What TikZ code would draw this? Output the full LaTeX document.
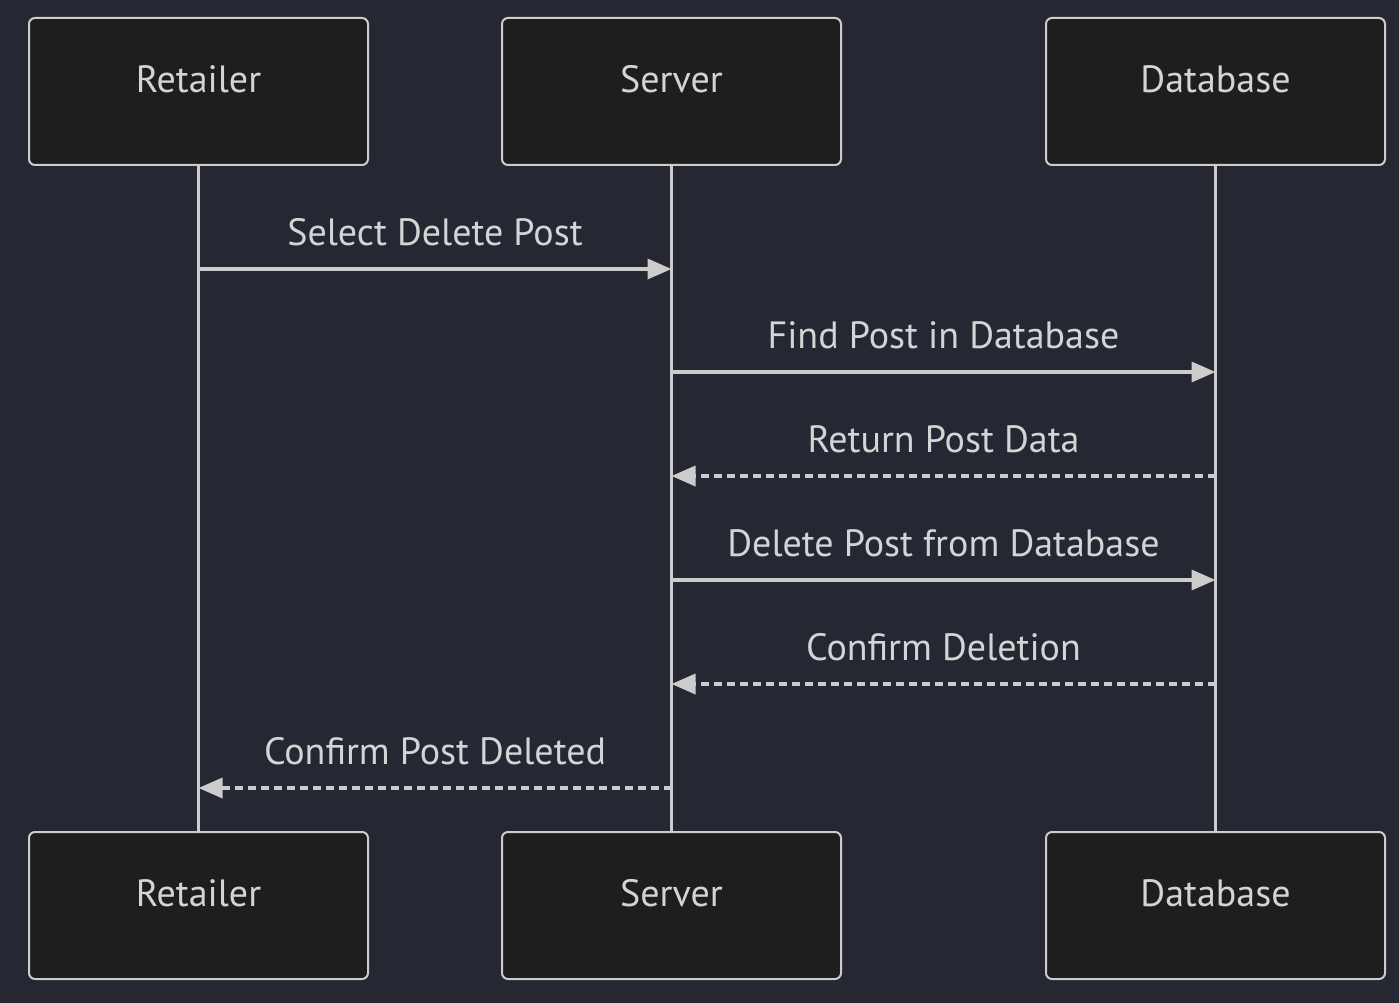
\documentclass[tikz,border=0pt]{standalone}
\usepackage{fontspec}
\setmainfont{PT Sans}
\usetikzlibrary{arrows.meta, positioning}
\definecolor{bgdark}{HTML}{252833}
\definecolor{boxfill}{HTML}{1E1E1E}
\definecolor{linegray}{HTML}{CCCCCC}
\definecolor{textgray}{HTML}{D4D4D4}

\begin{document}
\begin{tikzpicture}[
        x=1pt, y=-1pt,
        actor/.style={
            draw=linegray, line width=2pt, fill=boxfill, rounded corners=6pt,
            minimum width=339pt, minimum height=147pt, inner sep=0pt,
            label={[textgray, font=\fontsize{38}{42}\selectfont, yshift=12pt]center:#1},
          },
        lifeline/.style={linegray, line width=3.5pt},
        msg/.style={linegray, line width=3.5pt, -{Triangle[length=24pt, width=20pt]}},
        reply/.style={msg, dash pattern=on 8pt off 5pt},
        msglabel/.style={textgray, font=\fontsize{38}{42}\selectfont, above=18pt, midway},
        ]
        \fill[bgdark] (0,0) rectangle (1399,1003);
        \useasboundingbox (0,0) rectangle (1399,1003);
        % actors
        \node[actor=Retailer] (ret) at (198.5, 91.5) {};
        \node[actor=Server] (srv) at (671.5, 91.5) {};
        \node[actor=Database] (db) at (1215.5, 91.5) {};
        \node[actor=Retailer] (retb) at (198.5, 905.5) {};
        \node[actor=Server] (srvb) at (671.5, 905.5) {};
        \node[actor=Database] (dbb) at (1215.5, 905.5) {};
        % lifelines
        \draw[lifeline] (ret.south) -- (retb.north);
        \draw[lifeline] (srv.south) -- (srvb.north);
        \draw[lifeline] (db.south) -- (dbb.north);
        % message points on the lifelines
        \foreach \n/\y in {1/269, 2/372, 3/476, 4/580, 5/684, 6/788}{
            \coordinate (r\n) at (198.5, \y);
            \coordinate (s\n) at (671.5, \y);
            \coordinate (d\n) at (1215.5, \y);
        }
        % messages
        \draw[msg] (r1) -- node[msglabel] {Select Delete Post} (s1);
        \draw[msg] (s2) -- node[msglabel] {Find Post in Database} (d2);
        \draw[reply] (d3) -- node[msglabel] {Return Post Data} (s3);
        \draw[msg] (s4) -- node[msglabel] {Delete Post from Database} (d4);
        \draw[reply] (d5) -- node[msglabel] {Confirm Deletion} (s5);
        \draw[reply] (s6) -- node[msglabel] {Confirm Post Deleted} (r6);
    \end{tikzpicture}
\end{document}
